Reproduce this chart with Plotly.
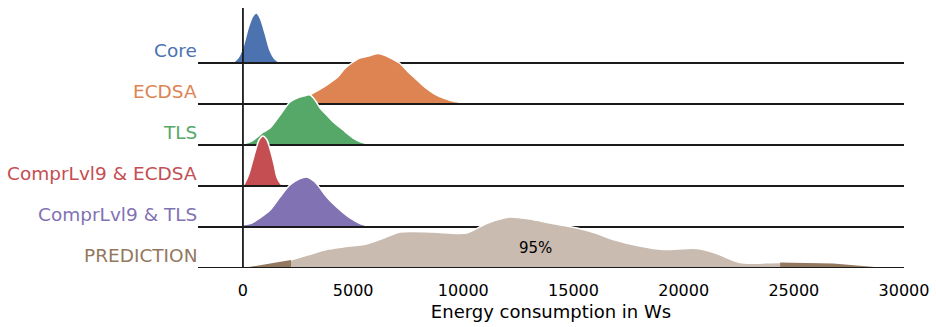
import numpy as np
import plotly.graph_objects as go

# Energy consumption samples summarised as density curves (relative density, peak ~ 1)
categories = ["Core", "ECDSA", "TLS", "ComprLvl9 & ECDSA", "ComprLvl9 & TLS", "PREDICTION"]
colors = ["#4C72B0", "#DD8452", "#55A868", "#C44E52", "#8172B3", "#937860"]

core_x = [-600, -400, -200, 0, 250, 450, 620, 780, 1000, 1220, 1450, 1700, 1800]
core_d = [0.0, 0.03, 0.12, 0.32, 0.72, 0.94, 1.0, 0.9, 0.6, 0.26, 0.08, 0.01, 0.0]

ecdsa_x = [1800, 2300, 3100, 3800, 4300, 4600, 5000, 5300, 5700, 6100, 6400, 6700,
           7100, 7500, 7900, 8300, 8700, 9100, 9600, 10300, 10800]
ecdsa_d = [0.0, 0.04, 0.2, 0.38, 0.54, 0.7, 0.84, 0.92, 0.96, 1.01, 0.98, 0.92,
           0.82, 0.64, 0.48, 0.32, 0.2, 0.12, 0.05, 0.015, 0.0]

tls_x = [-100, 0, 400, 900, 1230, 1750, 2130, 2450, 2750, 3050, 3300, 3500, 3800,
         4100, 4550, 4700, 5000, 5300, 5600, 5900, 6200]
tls_d = [0.0, 0.02, 0.08, 0.25, 0.34, 0.64, 0.86, 0.94, 0.98, 1.0, 0.88, 0.74, 0.6,
         0.46, 0.3, 0.24, 0.14, 0.07, 0.03, 0.006, 0.0]

c9_ecdsa_x = [0, 90, 270, 410, 590, 730, 900, 1090, 1230, 1410, 1540, 1720, 1860]
c9_ecdsa_d = [0.0, 0.06, 0.24, 0.46, 0.74, 0.92, 1.0, 0.92, 0.74, 0.44, 0.18, 0.04, 0.0]

c9_tls_x = [-300, -200, 0, 400, 770, 1230, 1680, 2130, 2590, 2890, 3270, 3800,
            4250, 4860, 5310, 5690, 5900]
c9_tls_d = [0.0, 0.02, 0.04, 0.08, 0.18, 0.34, 0.6, 0.84, 0.97, 1.0, 0.9, 0.6,
            0.4, 0.18, 0.07, 0.02, 0.0]

pred_x = [0, 1075, 2180, 3000, 3800, 4540, 5600, 6400, 7130, 8600, 10150, 11060,
          12100, 13000, 13930, 15160, 16000, 16800, 18000, 19060, 20600, 21500,
          22550, 24370, 26780, 28900, 29200]
pred_d = [0.0, 0.08, 0.16, 0.27, 0.37, 0.42, 0.48, 0.6, 0.72, 0.72, 0.7, 0.89,
          1.02, 0.98, 0.9, 0.8, 0.7, 0.57, 0.44, 0.37, 0.39, 0.29,
          0.11, 0.11, 0.09, 0.01, 0.0]

# 95% interval of the prediction
pred_lo, pred_hi = 2180, 24380
pred_label = "95%"

series_x = [core_x, ecdsa_x, tls_x, c9_ecdsa_x, c9_tls_x, pred_x]
series_d = [core_d, ecdsa_d, tls_d, c9_ecdsa_d, c9_tls_d, pred_d]

x_ticks = [0, 5000, 10000, 15000, 20000, 25000, 30000]
x_title = "Energy consumption in Ws"

# ridge geometry (in y-axis units)
X_MIN, X_MAX = -2040, 30000
STEP = 41
SCALE = 50
n = len(categories)
FONT = "DejaVu Sans"

fig = go.Figure()

for i, (name, col, xs, ds) in enumerate(zip(categories, colors, series_x, series_d)):
    base = (n - 1 - i) * STEP
    ys = [base + d * SCALE for d in ds]
    fill = col
    if name == "PREDICTION":
        fill = "#C9BBAF"
    fig.add_trace(go.Scatter(
        x=xs, y=ys, mode="lines", fill="toself", fillcolor=fill,
        line=dict(color="white", width=1.5, shape="spline", smoothing=0.8),
        hoverinfo="skip", showlegend=False))
    if name == "PREDICTION":
        xa = np.array(xs, dtype=float)
        da = np.array(ds, dtype=float)
        lo_h = float(np.interp(pred_lo, xa, da))
        hi_h = float(np.interp(pred_hi, xa, da))
        left = xa <= pred_lo
        lx = list(xa[left]) + [pred_lo, pred_lo]
        ly = [base + d * SCALE for d in da[left]] + [base + lo_h * SCALE, base]
        right = xa >= pred_hi
        rx = [pred_hi, pred_hi] + list(xa[right])
        ry = [base, base + hi_h * SCALE] + [base + d * SCALE for d in da[right]]
        for tx, ty in ((lx, ly), (rx, ry)):
            fig.add_trace(go.Scatter(
                x=tx, y=ty, mode="lines", fill="toself", fillcolor=col,
                line=dict(width=0), hoverinfo="skip", showlegend=False))
        fig.add_annotation(x=(pred_lo + pred_hi) / 2, y=base + 20, text=pred_label,
                           showarrow=False, font=dict(family=FONT, size=15, color="black"))
    # baseline of this ridge
    fig.add_trace(go.Scatter(
        x=[X_MIN, X_MAX], y=[base, base], mode="lines",
        line=dict(color="#1a1a1a", width=1.8), hoverinfo="skip", showlegend=False,
        cliponaxis=False))
    fig.add_annotation(x=0, xref="paper", y=base + 12.5, text=name, showarrow=False,
                       xanchor="right", yanchor="middle", xshift=1,
                       font=dict(family=FONT, size=18.5, color=col))

# vertical line at zero energy
fig.add_trace(go.Scatter(
    x=[0, 0], y=[0, (n - 1) * STEP + 55], mode="lines",
    line=dict(color="#1a1a1a", width=1.8), hoverinfo="skip", showlegend=False,
    cliponaxis=False))

fig.update_layout(
    width=936, height=327,
    margin=dict(l=198, r=32, t=8, b=59),
    paper_bgcolor="white", plot_bgcolor="white",
    font=dict(family=FONT, color="black"),
    xaxis=dict(range=[X_MIN, X_MAX], tickvals=x_ticks,
               ticktext=[str(v) for v in x_ticks],
               showgrid=False, zeroline=False, showline=False,
               ticks="outside", ticklen=8, tickcolor="rgba(0,0,0,0)",
               tickfont=dict(family=FONT, size=16, color="black"),
               title=dict(text=x_title, standoff=6,
                          font=dict(family=FONT, size=18, color="black"))),
    yaxis=dict(range=[0, (n - 1) * STEP + 55], visible=False,
               showgrid=False, zeroline=False),
)

fig.write_html("out.html")
